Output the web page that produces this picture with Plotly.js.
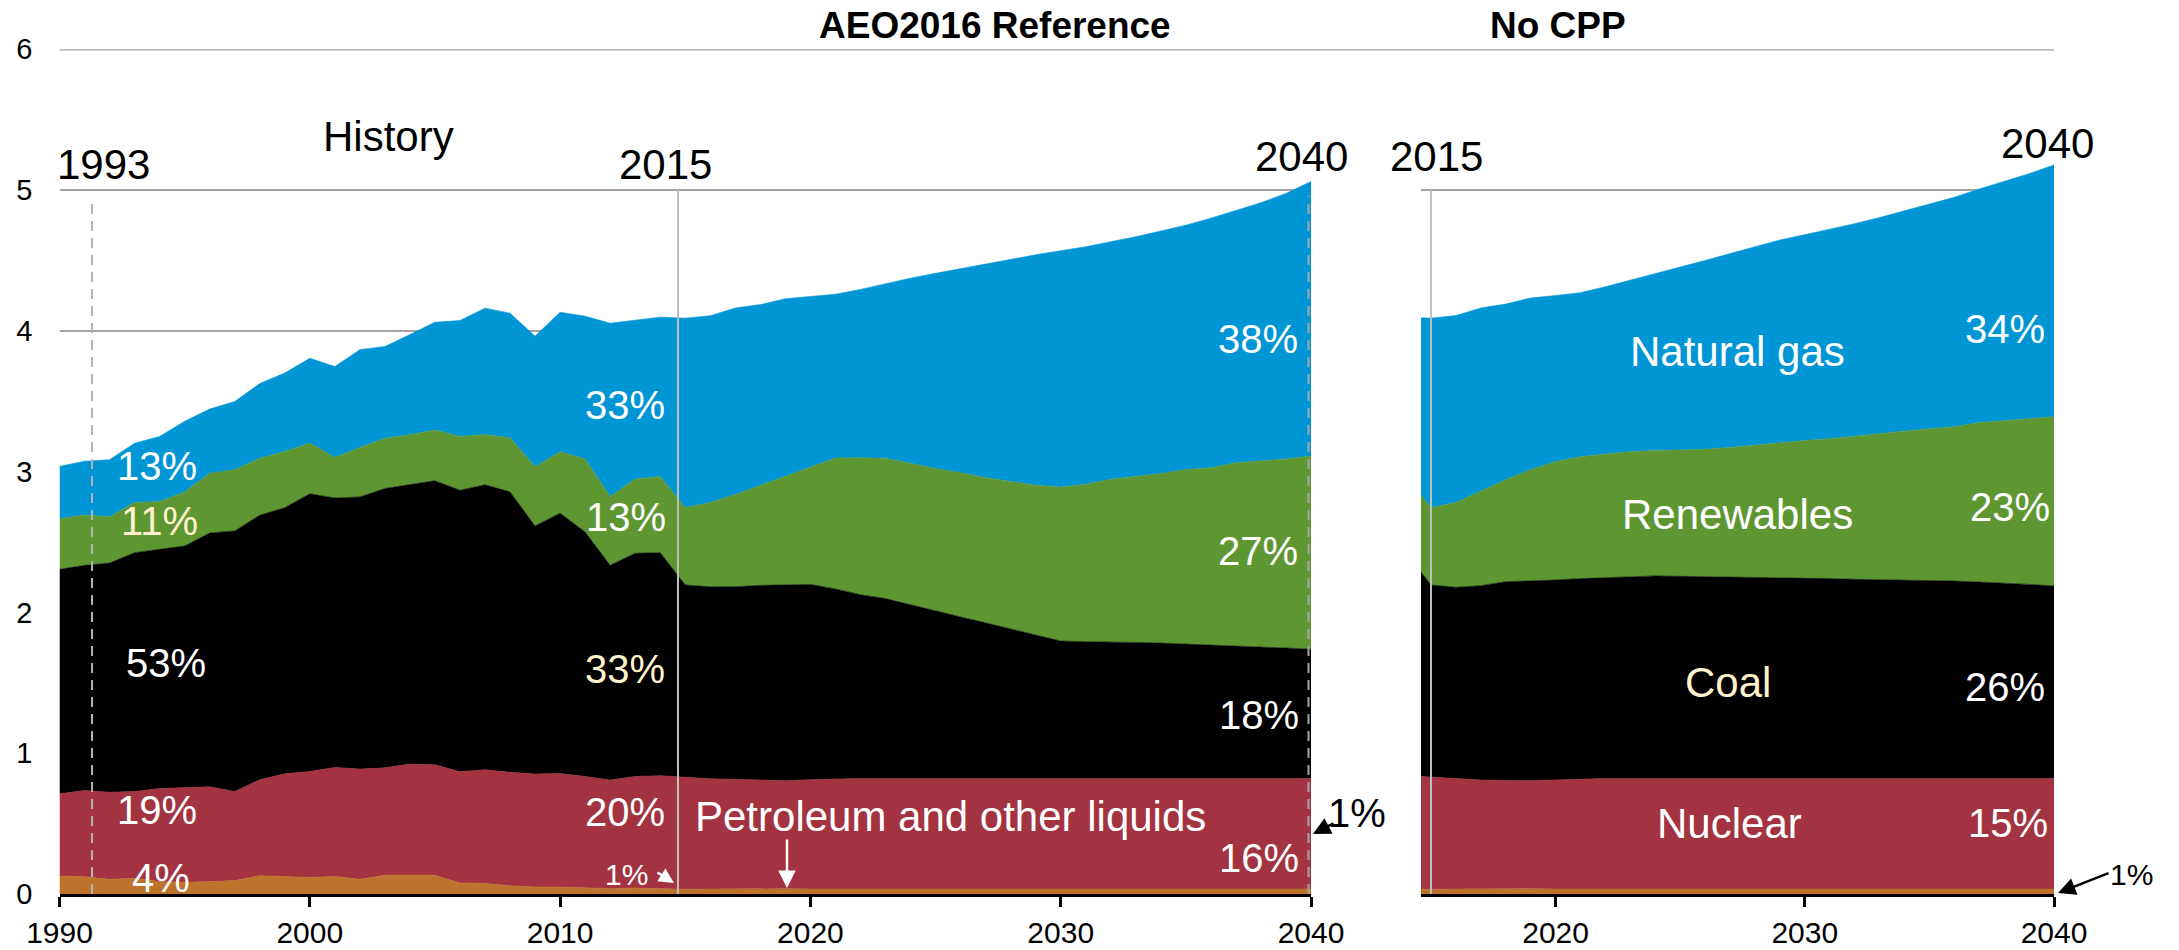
<!DOCTYPE html>
<html>
<head>
<meta charset="utf-8">
<script src="https://cdn.plot.ly/plotly-3.0.1.min.js"></script>
<style>
html,body{margin:0;padding:0;background:#fff;}
#chart{width:2179px;height:950px;}
</style>
</head>
<body>
<div id="chart"></div>
<script>
// ---------- DATA (trillion kilowatthours) ----------
const histYears = [1990,1991,1992,1993,1994,1995,1996,1997,1998,1999,2000,2001,2002,2003,2004,2005,2006,2007,2008,2009,2010,2011,2012,2013,2014,2015];
const projYears = [2016,2017,2018,2019,2020,2021,2022,2023,2024,2025,2026,2027,2028,2029,2030,2031,2032,2033,2034,2035,2036,2037,2038,2039,2040];

const histPetroleum  = [0.128,0.123,0.104,0.111,0.088,0.083,0.088,0.095,0.130,0.123,0.118,0.125,0.104,0.133,0.133,0.133,0.078,0.075,0.059,0.050,0.050,0.043,0.038,0.043,0.038,0.033];
const histNuclear    = [0.584,0.612,0.619,0.617,0.661,0.671,0.673,0.633,0.681,0.731,0.752,0.774,0.783,0.763,0.790,0.785,0.790,0.808,0.805,0.802,0.806,0.792,0.771,0.792,0.802,0.797];
const histCoal       = [1.594,1.599,1.627,1.696,1.699,1.718,1.803,1.851,1.879,1.890,1.972,1.914,1.933,1.984,1.985,2.017,2.000,2.023,1.992,1.762,1.849,1.736,1.525,1.585,1.584,1.365];
const histRenewables = [0.360,0.358,0.330,0.356,0.339,0.384,0.425,0.434,0.404,0.399,0.361,0.288,0.352,0.356,0.354,0.360,0.382,0.358,0.384,0.420,0.436,0.518,0.489,0.527,0.541,0.550];
const histGas        = [0.371,0.382,0.404,0.422,0.463,0.501,0.455,0.484,0.531,0.557,0.602,0.645,0.694,0.652,0.711,0.766,0.823,0.897,0.885,0.928,0.991,1.015,1.231,1.126,1.132,1.345];

// AEO2016 Reference case projections 2016-2040
const refPetroleum  = [0.035,0.037,0.040,0.037,0.035,0.035,0.035,0.035,0.035,0.035,0.035,0.035,0.035,0.035,0.035,0.035,0.035,0.035,0.035,0.035,0.035,0.035,0.035,0.035,0.035];
const refNuclear    = [0.784,0.777,0.770,0.768,0.777,0.784,0.786,0.786,0.786,0.786,0.786,0.786,0.786,0.786,0.786,0.786,0.786,0.786,0.786,0.786,0.786,0.786,0.786,0.786,0.786];
const refCoal       = [1.363,1.369,1.382,1.392,1.387,1.348,1.305,1.277,1.232,1.189,1.147,1.105,1.063,1.019,0.976,0.971,0.971,0.966,0.961,0.955,0.948,0.941,0.934,0.926,0.918];
const refRenewables = [0.598,0.654,0.710,0.770,0.837,0.930,0.972,0.996,1.006,1.012,1.024,1.031,1.046,1.063,1.093,1.119,1.153,1.179,1.204,1.239,1.258,1.301,1.321,1.343,1.372];
const refGas        = [1.327,1.325,1.284,1.261,1.206,1.163,1.196,1.240,1.315,1.386,1.450,1.520,1.578,1.637,1.679,1.686,1.688,1.702,1.723,1.735,1.773,1.792,1.834,1.885,1.949];

// No CPP case projections 2016-2040
const noCppPetroleum  = [0.035,0.037,0.040,0.037,0.035,0.035,0.035,0.035,0.035,0.035,0.035,0.035,0.035,0.035,0.035,0.035,0.035,0.035,0.035,0.035,0.035,0.035,0.035,0.035,0.035];
const noCppNuclear    = [0.781,0.773,0.766,0.768,0.775,0.783,0.786,0.786,0.786,0.786,0.786,0.786,0.786,0.786,0.786,0.786,0.786,0.786,0.786,0.786,0.786,0.786,0.786,0.786,0.786];
const noCppCoal       = [1.362,1.380,1.412,1.418,1.420,1.422,1.426,1.435,1.438,1.435,1.433,1.430,1.428,1.426,1.423,1.419,1.414,1.412,1.409,1.404,1.402,1.395,1.388,1.378,1.367];
const noCppRenewables = [0.602,0.670,0.725,0.791,0.841,0.866,0.875,0.886,0.890,0.895,0.904,0.921,0.940,0.959,0.976,0.994,1.018,1.039,1.061,1.080,1.096,1.132,1.153,1.179,1.202];
const noCppGas        = [1.328,1.302,1.247,1.219,1.179,1.165,1.191,1.216,1.259,1.302,1.342,1.376,1.408,1.439,1.463,1.487,1.508,1.532,1.560,1.593,1.629,1.659,1.697,1.738,1.788];

const leftTicks  = [1990,2000,2010,2020,2030,2040];
const rightTicks = [2020,2030,2040];
const yTicks     = [0,1,2,3,4,5,6];

// ---------- STYLE ----------
const W = 2179, H = 950;
const FONT = 'Liberation Sans, Arial, Helvetica, sans-serif';
const colors = {
  petroleum: '#BD732B',
  nuclear:   '#A33340',
  coal:      '#000000',
  renewables:'#5E9732',
  gas:       '#0096D6'
};
const CREAM = '#FFF2CC';
const GRID = '#A3A3A3';
const px = v => v / W;
const py = v => 1 - v / H;

const fuels = [
  {key:'petroleum',  hist:histPetroleum,  ref:refPetroleum,  nocpp:noCppPetroleum},
  {key:'nuclear',    hist:histNuclear,    ref:refNuclear,    nocpp:noCppNuclear},
  {key:'coal',       hist:histCoal,       ref:refCoal,       nocpp:noCppCoal},
  {key:'renewables', hist:histRenewables, ref:refRenewables, nocpp:noCppRenewables},
  {key:'gas',        hist:histGas,        ref:refGas,        nocpp:noCppGas}
];

const traces = [];
fuels.forEach(f => {
  traces.push({
    type:'scatter', mode:'lines', stackgroup:'left',
    x: histYears.concat(projYears),
    y: f.hist.concat(f.ref),
    line:{width:0.6, color:colors[f.key]}, fillcolor:colors[f.key],
    xaxis:'x', yaxis:'y', hoverinfo:'skip', name:f.key
  });
});
fuels.forEach(f => {
  traces.push({
    type:'scatter', mode:'lines', stackgroup:'right',
    x: histYears.slice(-2).concat(projYears),
    y: f.hist.slice(-2).concat(f.nocpp),
    line:{width:0.6, color:colors[f.key]}, fillcolor:colors[f.key],
    xaxis:'x2', yaxis:'y2', hoverinfo:'skip', name:f.key + ' (No CPP)'
  });
});

const yDom = [56/H, 900.8/H];
const xAxisCommon = {
  ticks:'outside', ticklen:10, tickwidth:3, tickcolor:'#000',
  showline:true, linecolor:'#000', linewidth:3,
  showgrid:false, zeroline:false, fixedrange:true,
  tickfont:{family:FONT, size:30, color:'#000'}
};
const yAxisCommon = {
  range:[0,6], tickvals:yTicks, domain:yDom,
  showgrid:true, gridcolor:GRID, gridwidth:2.5,
  zeroline:false, showline:false, ticks:'', fixedrange:true,
  tickfont:{family:FONT, size:29, color:'#000'}
};

function lbl(text, x, y, size, color, bold){
  return {
    text: bold ? '<b>'+text+'</b>' : text,
    x: px(x), y: py(y), xref:'paper', yref:'paper',
    xanchor:'center', yanchor:'middle', showarrow:false,
    font:{family:FONT, size:size, color:color}
  };
}
function arrow(tailX, tailY, tipX, tipY, color, size){
  return {
    text:'', x:px(tipX), y:py(tipY), xref:'paper', yref:'paper',
    ax: tailX - tipX, ay: tailY - tipY,
    showarrow:true, arrowhead:2, arrowsize:size, arrowwidth:2.5, arrowcolor:color
  };
}

const annotations = [
  // axis title, cut off at the top edge as in the source image (only descenders visible)
  {text:'by energy source, trillion kilowatthours', x:px(59.6), y:1 + 23.5/H,
   xref:'paper', yref:'paper', xanchor:'left', yanchor:'middle', showarrow:false,
   font:{family:FONT, size:42, color:'#000'}},
  lbl('AEO2016 Reference', 995, 25.8, 37, '#000', true),
  lbl('No CPP', 1558, 25.8, 37, '#000', true),
  lbl('History', 388, 136.7, 42, '#000'),
  lbl('1993', 103, 165, 42, '#000'),
  lbl('2015', 665, 165, 42, '#000'),
  lbl('2040', 1301, 156, 42, '#000'),
  lbl('2015', 1436, 156, 42, '#000'),
  lbl('2040', 2047, 144, 42, '#000'),
  // 1993 shares
  lbl('13%', 157, 466, 40, '#fff'),
  lbl('11%', 159, 520.5, 40, CREAM),
  lbl('53%', 166, 663, 40, '#fff'),
  lbl('19%', 157, 809.5, 40, '#fff'),
  lbl('4%', 161, 877.5, 40, '#fff'),
  // 2015 shares
  lbl('33%', 625, 405, 40, '#fff'),
  lbl('13%', 626, 516.5, 40, '#fff'),
  lbl('33%', 625, 669, 40, CREAM),
  lbl('20%', 625, 812, 40, '#fff'),
  lbl('1%', 626.5, 874, 30, '#fff'),
  lbl('Petroleum and other liquids', 950, 816, 42, '#fff'),
  // 2040 reference shares
  lbl('38%', 1258, 339, 40, '#fff'),
  lbl('27%', 1258, 550.5, 40, '#fff'),
  lbl('18%', 1259, 715, 40, '#fff'),
  lbl('16%', 1259, 857.5, 40, '#fff'),
  lbl('1%', 1357, 812.5, 40, '#000'),
  // No CPP
  lbl('Natural gas', 1737, 351.5, 42, '#fff'),
  lbl('34%', 2005, 328.5, 40, '#fff'),
  lbl('Renewables', 1737, 514, 42, '#fff'),
  lbl('23%', 2010, 507, 40, '#fff'),
  lbl('Coal', 1728, 682, 42, CREAM),
  lbl('26%', 2005, 687, 40, '#fff'),
  lbl('Nuclear', 1729, 823, 42, '#fff'),
  lbl('15%', 2008, 823, 40, '#fff'),
  lbl('1%', 2131, 874, 30, '#000'),
  // arrows
  arrow(656, 871.5, 674, 883, '#fff', 1.2),
  arrow(787, 838, 787, 888, '#fff', 1.4),
  arrow(1335, 822.5, 1313, 834, '#000', 1.4),
  arrow(2110, 872.5, 2058, 893, '#000', 1.4)
];

const shapes = [
  // top gridline (value 6) spanning both panels
  {type:'line', xref:'paper', yref:'y', x0:px(59.5), x1:px(2054), y0:6, y1:6,
   line:{color:GRID, width:2.5}, layer:'below'},
  // 1993 dashed marker
  {type:'line', xref:'x', yref:'y', x0:1991.3, x1:1991.3, y0:0, y1:4.94,
   line:{color:'#B4B4B4', width:2, dash:'10px,7px'}, layer:'above'},
  // 2015 solid marker (left)
  {type:'line', xref:'x', yref:'y', x0:2014.71, x1:2014.71, y0:0, y1:5,
   line:{color:'#C0C0C0', width:2}, layer:'above'},
  // 2040 dashed marker (left)
  {type:'line', xref:'x', yref:'y', x0:2039.9, x1:2039.9, y0:0, y1:4.96,
   line:{color:'#A6A6A6', width:2, dash:'10px,7px'}, layer:'above'},
  // 2015 solid marker (right)
  {type:'line', xref:'x2', yref:'y2', x0:2015, x1:2015, y0:0, y1:5,
   line:{color:'#C0C0C0', width:2}, layer:'above'}
];

const layout = {
  width:W, height:H,
  margin:{l:0, r:0, t:0, b:0, pad:0},
  paper_bgcolor:'#fff', plot_bgcolor:'rgba(0,0,0,0)',
  showlegend:false,
  font:{family:FONT, color:'#000'},
  xaxis: Object.assign({}, xAxisCommon, {
    domain:[59.5/W, 1311/W], range:[1990, 2040], tickvals:leftTicks, anchor:'y'
  }),
  yaxis: Object.assign({}, yAxisCommon, {anchor:'x', ticklabelstandoff:26}),
  xaxis2: Object.assign({}, xAxisCommon, {
    domain:[1421/W, 2054/W], range:[2014.6, 2040], tickvals:rightTicks, anchor:'y2'
  }),
  yaxis2: Object.assign({}, yAxisCommon, {anchor:'x2', showticklabels:false}),
  annotations: annotations,
  shapes: shapes
};

Plotly.newPlot('chart', traces, layout, {displayModeBar:false, staticPlot:true});
</script>
</body>
</html>
